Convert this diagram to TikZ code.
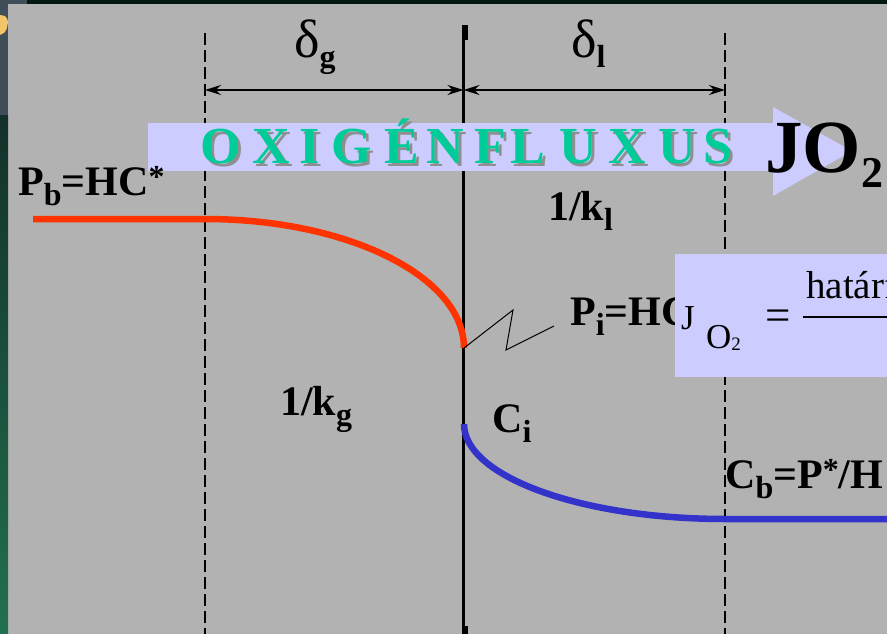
\documentclass[tikz,border=0pt]{standalone}
\usepackage{fontspec}
\setmainfont{Liberation Serif}
\usetikzlibrary{arrows.meta}
\definecolor{bg}{HTML}{B2B2B2}
\definecolor{topdark}{HTML}{02170F}
\definecolor{slate}{HTML}{3F4E58}
\definecolor{greenA}{HTML}{13302A}
\definecolor{greenB}{HTML}{22704E}
\definecolor{yel}{HTML}{F3C468}
\definecolor{lav}{HTML}{CCCCFF}
\definecolor{mint}{HTML}{00CC99}
\definecolor{shadowgrey}{HTML}{8F8F8F}
\definecolor{redline}{HTML}{FF3300}
\definecolor{blueline}{HTML}{3333CC}
\newcommand\mysb[1]{\raisebox{-10pt}{\fontsize{32}{32}\selectfont #1}}
\newcommand\mysp[1]{\raisebox{8pt}{\fontsize{32}{32}\selectfont #1}}
\tikzset{
  lab/.style={font=\bfseries\fontsize{42}{42}\selectfont, inner sep=0pt, anchor=base west},
  dashline/.style={line width=1.8pt, dash pattern=on 12pt off 5pt},
  dimarrow/.style={line width=1.5pt, {Stealth[length=16pt,width=10pt]}-{Stealth[length=16pt,width=10pt]}},
  letter/.style={font=\bfseries\fontsize{52}{52}\selectfont, inner sep=0pt, anchor=base},
}
\begin{document}
\begin{tikzpicture}[x=1pt,y=-1pt]
\useasboundingbox (0,0) rectangle (887,634);
\clip (0,0) rectangle (887,634);
% background
\fill[bg] (0,0) rectangle (887,634);
\fill[topdark] (0,0) rectangle (887,4);
\fill[slate] (0,0) rectangle (27,4);
\fill[slate] (0,0) rectangle (8,116);
\shade[top color=greenA, bottom color=greenB] (0,116) rectangle (8,634);
\fill[yel] (0,15) -- (5,16) .. controls (9,18) and (9,28) .. (4,33) -- (0,35) -- cycle;
% vertical lines
\coordinate (gtop) at (205,33);
\coordinate (gbot) at (205,634);
\coordinate (ltop) at (725,33);
\coordinate (lbot) at (725,634);
\coordinate (itop) at (463.5,25);
\coordinate (ibot) at (463.5,634);
\draw[dashline] (gtop) -- (gbot);
\draw[dashline] (ltop) -- (lbot);
\draw[line width=3pt] (itop) -- (ibot);
\fill (462,25) rectangle (468,40);
\fill (462,626) rectangle (468,634);
% dimension arrows
\coordinate (dg) at (205,90);
\coordinate (di) at (463.5,90);
\coordinate (dl) at (725,90);
\draw[dimarrow] (dg) -- (di);
\draw[dimarrow] (di) -- (dl);
\node[inner sep=0pt, anchor=base west, font=\fontsize{54}{54}\selectfont] (deltag) at (294,58) {δ\raisebox{-10pt}{\bfseries\fontsize{32}{32}\selectfont g}};
\node[inner sep=0pt, anchor=base west, font=\fontsize{54}{54}\selectfont] (deltal) at (571,58) {δ\raisebox{-10pt}{\bfseries\fontsize{32}{32}\selectfont l}};
% flux band
\fill[lav] (148,123) rectangle (775,171);
\fill[lav] (773,107) -- (852,151) -- (773,196) -- cycle;
\foreach \ch/\xx [count=\i] in {O/221,X/271,I/310,G/352,É/402,N/445,F/490,L/528,U/578,X/627,U/677,S/718}{
  \node[letter, text=shadowgrey] (sh\i) at (\xx+3,166) {\ch};
  \node[letter, text=mint] (fl\i) at (\xx,164) {\ch};
}
\node[inner sep=0pt, anchor=base west, font=\bfseries\fontsize{75}{75}\selectfont] (jo2) at (765,172) {JO\raisebox{-15pt}{\fontsize{44}{44}\selectfont 2}};
% labels
\node[lab] (pb) at (18,195) {P\mysb{b}=HC\mysp{*}};
\node[lab] (kl) at (548,220) {1/k\mysb{l}};
\node[lab] (kg) at (280,415) {1/k\mysb{g}};
\node[lab] (ci) at (492,432) {C\mysb{i}};
\node[lab] (cb) at (725,488) {C\mysb{b}=P\mysp{*}/H};
\node[lab] (pi) at (570,325) {P\mysb{i}=HC\mysb{i}};
% concentration curves
\coordinate (redstart) at (33,219);
\coordinate (redknee) at (205,219);
\coordinate (redend) at (464,348);
\draw[redline, line width=6.5pt] (redstart) -- (redknee) arc[start angle=90, end angle=0, x radius=259pt, y radius=129pt];
\coordinate (bluestart) at (464,424);
\coordinate (blueknee) at (725,519);
\coordinate (blueend) at (887,519);
\draw[blueline, line width=6.5pt] (bluestart) arc[start angle=180, end angle=270, x radius=261pt, y radius=95pt] -- (blueend);
% zigzag pointer
\coordinate (z1) at (513,310);
\coordinate (z2) at (506,350);
\coordinate (z3) at (554,326);
\draw[line width=1pt] (redend) -- (z1) -- (z2) -- (z3);
% formula box
\fill[lav] (675,254) rectangle (887,377);
\node[inner sep=0pt, anchor=base west, font=\fontsize{35}{35}\selectfont] (fj) at (681,329) {J};
\node[inner sep=0pt, anchor=base west, font=\fontsize{35}{35}\selectfont] (fo) at (706,348) {O\raisebox{-2pt}{\fontsize{19}{19}\selectfont 2}};
\node[inner sep=0pt, anchor=base west, font=\fontsize{45}{45}\selectfont] (feq) at (765,330) {=};
\coordinate (barl) at (803,317);
\coordinate (barr) at (887,317);
\draw[line width=1.5pt] (barl) -- (barr);
\node[inner sep=0pt, anchor=base west, font=\fontsize{39}{39}\selectfont] (fnum) at (806,298) {határfelület};
\end{tikzpicture}
\end{document}
